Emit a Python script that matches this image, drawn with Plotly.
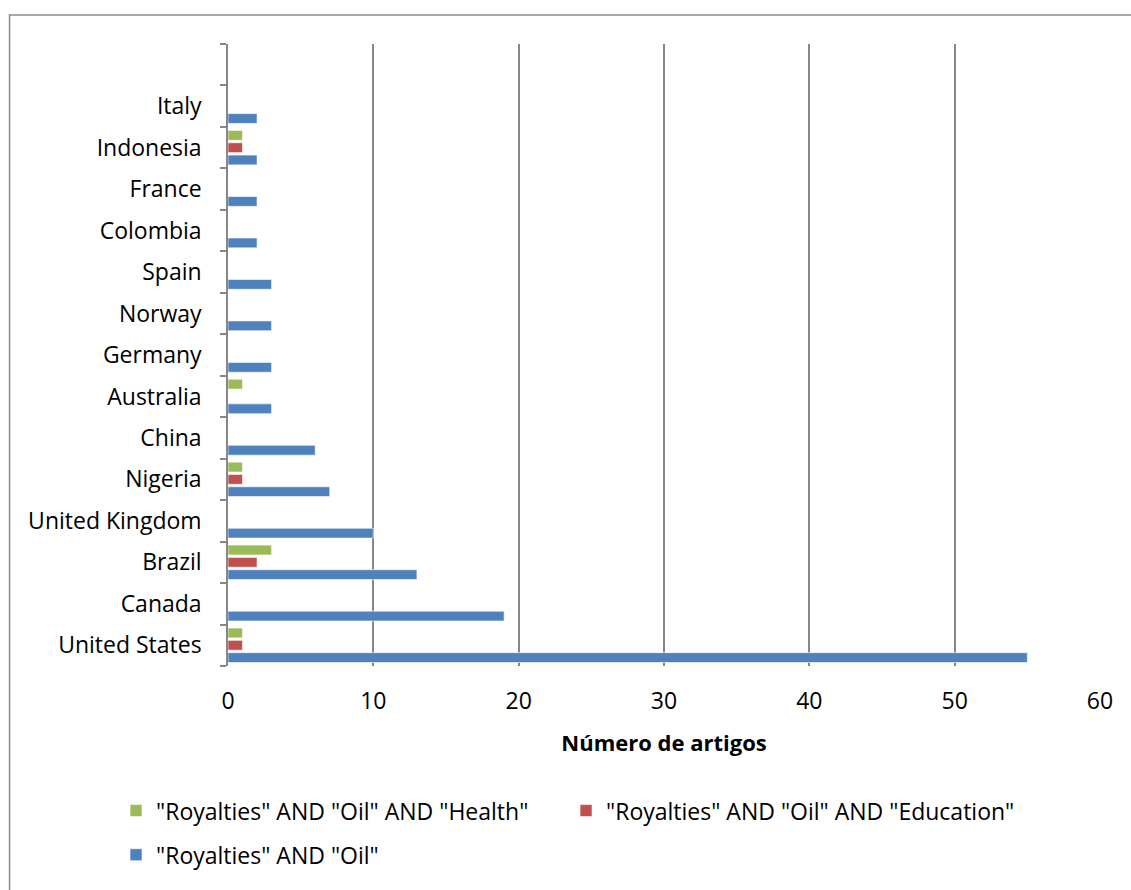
import plotly.graph_objects as go

# Countries, bottom to top; the last slot on the axis is left empty
countries = ["United States", "Canada", "Brazil", "United Kingdom", "Nigeria", "China",
             "Australia", "Germany", "Norway", "Spain", "Colombia", "France",
             "Indonesia", "Italy", " "]

oil = [55, 19, 13, 10, 7, 6, 3, 3, 3, 3, 2, 2, 2, 2, None]
education = [1, None, 2, None, 1, None, None, None, None, None, None, None, 1, None, None]
health = [1, None, 3, None, 1, None, 1, None, None, None, None, None, 1, None, None]

series_names = ['"Royalties" AND "Oil"',
                '"Royalties" AND "Oil" AND "Education"',
                '"Royalties" AND "Oil" AND "Health"']
colors = ["#4F81BD", "#C0504D", "#9BBB59"]

FONT = "Open Sans"
FS = 23
GRID = "#878787"

fig = go.Figure()
fig.add_trace(go.Bar(y=countries, x=oil, orientation="h", name=series_names[0],
                     marker=dict(color=colors[0], line=dict(color="white", width=0.6)),
                     legend="legend2"))
fig.add_trace(go.Bar(y=countries, x=education, orientation="h", name=series_names[1],
                     marker=dict(color=colors[1], line=dict(color="white", width=0.6)),
                     legend="legend"))
fig.add_trace(go.Bar(y=countries, x=health, orientation="h", name=series_names[2],
                     marker=dict(color=colors[2], line=dict(color="white", width=0.6)),
                     legend="legend"))

# outer chart frame
fig.add_shape(type="rect", xref="paper", yref="paper",
              x0=-0.2505, x1=1.2, y0=-0.5, y1=1.0466,
              line=dict(color="#8C8C8C", width=1.5), layer="below")

fig.update_layout(
    width=1131, height=890,
    margin=dict(l=228, r=31, t=44, b=224),
    paper_bgcolor="white", plot_bgcolor="white",
    barmode="group", bargap=0.11, bargroupgap=0.2,
    font=dict(family=FONT, size=FS, color="black"),
    showlegend=True,
    legend=dict(orientation="h", x=-0.1284, xanchor="left", y=-0.198, yanchor="top",
                traceorder="reversed", entrywidth=405, entrywidthmode="pixels",
                font=dict(family=FONT, size=FS), itemwidth=30,
                bgcolor="rgba(0,0,0,0)"),
    legend2=dict(orientation="h", x=-0.1284, xanchor="left", y=-0.269, yanchor="top",
                 font=dict(family=FONT, size=FS), itemwidth=30,
                 bgcolor="rgba(0,0,0,0)"),
    xaxis=dict(range=[0, 60], dtick=10, showgrid=True, gridcolor=GRID, gridwidth=1.5,
               zeroline=False, showline=False, ticks="", ticklabelstandoff=19,
               tickfont=dict(family=FONT, size=FS),
               title=dict(text="<b>Número de artigos</b>", standoff=20,
                          font=dict(family=FONT, size=22))),
    yaxis=dict(type="category", categoryorder="array", categoryarray=countries,
               range=[-0.5, len(countries) - 0.5], tickson="boundaries",
               ticks="outside", ticklen=6, tickcolor=GRID, tickwidth=1.5,
               showline=True, linecolor=GRID, linewidth=1.5, showgrid=False,
               ticklabelstandoff=20, tickfont=dict(family=FONT, size=FS)),
)

fig.write_html("out.html")
